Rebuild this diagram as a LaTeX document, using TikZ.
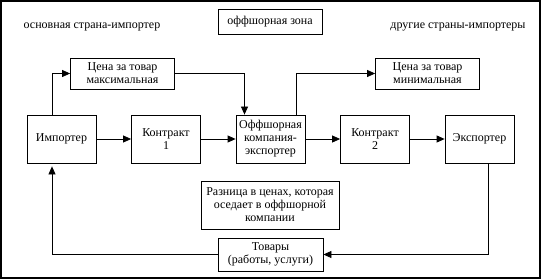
\documentclass[tikz,border=0pt]{standalone}
\usepackage{fontspec}
\setmainfont{Liberation Serif}
\usetikzlibrary{arrows.meta, positioning}

\begin{document}
\begin{tikzpicture}[
      x=1pt, y=1pt,
      font=\fontsize{12pt}{13pt}\selectfont,
      node distance=104.5pt,
      block/.style={rectangle, draw, line width=0.8pt, minimum width=69pt, minimum height=48pt, inner sep=1pt, align=center},
      pricebox/.style={block, minimum width=104pt, minimum height=31pt},
      arrow/.style={-{Triangle[length=8pt, width=7pt]}, line width=0.8pt}
  ]
      \useasboundingbox (0,0) rectangle (541,279);
      \draw[line width=1.2pt] (1,1) rectangle (540,278);

      % Zone labels
      \node[block, minimum width=104pt, minimum height=25pt] (zone) at (270,257.5) {оффшорная зона};
      \node (home) at (92,252) {основная страна-импортер};
      \node (other) at (458,252) {другие страны-импортеры};

      % Contract chain
      \node[block] (imp) at (61.5,140) {Импортер};
      \node[block, right of=imp] (c1) {Контракт\\1};
      \node[block, right of=c1] (off) {Оффшорная\\компания-\\экспортер};
      \node[block, right of=off] (c2) {Контракт\\2};
      \node[block, right of=c2] (exp) {Экспортер};

      % Prices
      \node[pricebox] (pmax) at (122.5,205.5) {Цена за товар\\максимальная};
      \node[pricebox] (pmin) at (427.5,205.5) {Цена за товар\\минимальная};

      % Difference and goods
      \node[block, minimum width=138pt] (diff) at (270,74) {Разница в ценах, которая\\оседает в оффшорной\\компании};
      \node[block, minimum width=105pt, minimum height=33pt] (goods) at (270.5,24.5) {Товары\\(работы, услуги)};

      % Arrows
      \draw[arrow] (imp) -- (c1);
      \draw[arrow] (c1) -- (off);
      \draw[arrow] (off) -- (c2);
      \draw[arrow] (c2) -- (exp);
      \draw[arrow] ([xshift=-9.5pt]imp.north) |- (pmax.west);
      \draw[arrow] (pmax.east) -| ([xshift=-26pt]off.north);
      \draw[arrow] ([xshift=26pt]off.north) |- (pmin.west);
      \draw[arrow] ([xshift=8.5pt]exp.south) |- (goods.east);
      \draw[arrow, shorten >=3pt] (goods.west) -| ([xshift=-9.5pt]imp.south);
  \end{tikzpicture}
\end{document}
